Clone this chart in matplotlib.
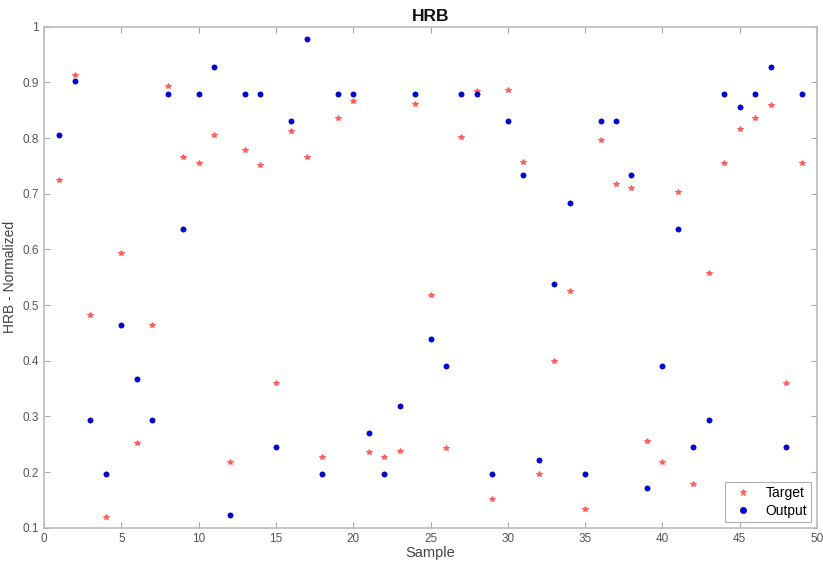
import matplotlib
matplotlib.use("Agg")
import matplotlib.pyplot as plt
import numpy as np

# sample index and values
samples = list(range(1, 50))
target = [0.724, 0.914, 0.482, 0.120, 0.594, 0.253, 0.465, 0.894, 0.766, 0.756,
          0.805, 0.218, 0.779, 0.751, 0.361, 0.812, 0.766, 0.227, 0.836, 0.866,
          0.237, 0.227, 0.238, 0.861, 0.519, 0.244, 0.802, 0.884, 0.151, 0.887,
          0.757, 0.196, 0.399, 0.525, 0.133, 0.796, 0.718, 0.710, 0.256, 0.219,
          0.703, 0.178, 0.557, 0.756, 0.816, 0.836, 0.859, 0.361, 0.756]
output = [0.806, 0.903, 0.294, 0.196, 0.465, 0.367, 0.294, 0.879, 0.636, 0.879,
          0.928, 0.123, 0.879, 0.879, 0.245, 0.831, 0.977, 0.196, 0.879, 0.879,
          0.270, 0.196, 0.318, 0.879, 0.440, 0.391, 0.879, 0.879, 0.196, 0.831,
          0.733, 0.221, 0.538, 0.684, 0.196, 0.831, 0.831, 0.733, 0.172, 0.391,
          0.636, 0.245, 0.294, 0.879, 0.855, 0.879, 0.928, 0.245, 0.879]
xticks = list(range(0, 51, 5))
yticks = [0.1, 0.2, 0.3, 0.4, 0.5, 0.6, 0.7, 0.8, 0.9, 1.0]
ytick_labels = ["0.1", "0.2", "0.3", "0.4", "0.5", "0.6", "0.7", "0.8", "0.9", "1"]

plt.rcParams['font.family'] = ['Liberation Sans', 'DejaVu Sans']

fig = plt.figure(figsize=(8.23, 5.67), dpi=100)
ax = fig.add_axes([0.0535, 0.069, 0.9392, 0.884])

ax.plot(samples, target, '*', color='#ff4040', alpha=0.75, markersize=4,
        markeredgewidth=0.8, linestyle='none', label='Target')
ax.plot(samples, output, 'o', color='#0000ee', markeredgecolor='#000066',
        markeredgewidth=0.4, markersize=3.8, linestyle='none', label='Output')

ax.set_xlim(0, 50)
ax.set_ylim(0.1, 1)
ax.set_xticks(xticks)
ax.set_yticks(yticks)
ax.set_yticklabels(ytick_labels)

for s in ax.spines.values():
    s.set_color('#bbbbbb')
    s.set_linewidth(1.2)
ax.tick_params(direction='in', top=True, right=True, length=4, width=0.8,
               color='#aaaaaa', labelcolor='#555555', labelsize=8.5)

ax.set_title('HRB', fontsize=12.5, fontweight='bold', color='#111111', pad=4)
ax.set_xlabel('Sample', fontsize=10.5, color='#444444', labelpad=1)
ax.set_ylabel('HRB - Normalized', fontsize=10, color='#444444', labelpad=4)

leg = ax.legend(loc='lower right', fontsize=10, frameon=True, fancybox=False,
                borderpad=0.3, handletextpad=0.6, labelspacing=0.3,
                borderaxespad=0.4, markerscale=1.2)
leg.get_frame().set_edgecolor('#999999')
leg.get_frame().set_linewidth(0.8)

fig.savefig('out.png', dpi=100)
